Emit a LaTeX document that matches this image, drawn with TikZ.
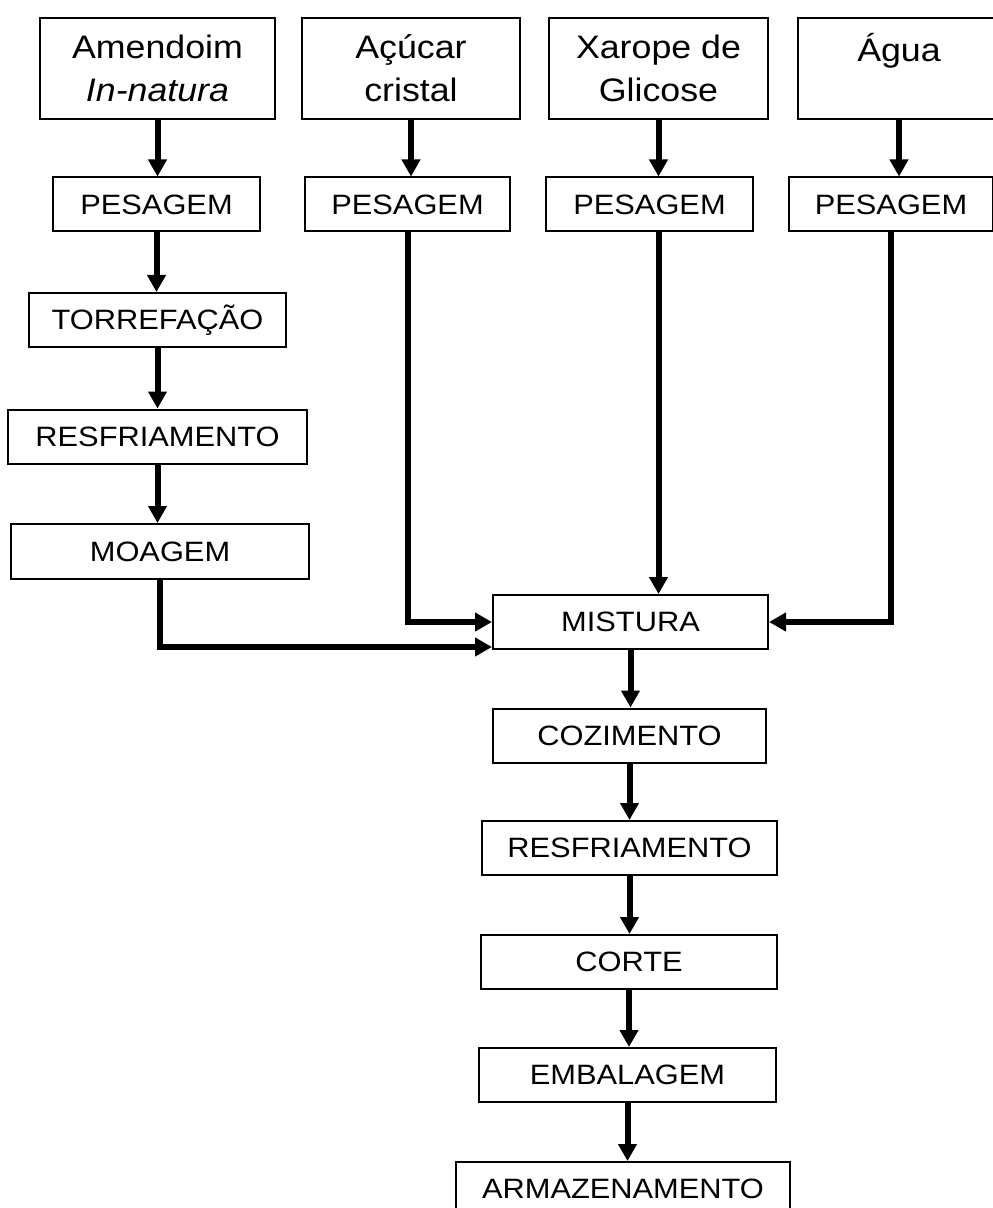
\documentclass[tikz,border=0pt]{standalone}
\usepackage{fontspec}
\setmainfont{Liberation Sans}[FakeStretch=1.1]
\usetikzlibrary{arrows.meta}

\begin{document}
\begin{tikzpicture}[x=0.5pt, y=-0.5pt,
    ingred/.style={rectangle, draw, line width=1pt, minimum height=50.5pt, inner sep=0pt, align=center, font=\fontsize{16.25}{21.5}\selectfont},
    etapa/.style={rectangle, draw, line width=1pt, minimum height=27pt, inner sep=0pt, text centered, font=\fontsize{14}{16}\selectfont},
    seta/.style={-{Triangle[width=9pt,length=8.5pt]}, line width=3pt}
]
\useasboundingbox (0,0) rectangle (992,1208);

\node[ingred, minimum width=117.5pt] (amend) at (157.5,68.5) {Amendoim\\\textit{In-natura}};
\node[ingred, minimum width=109pt] (acucar) at (411,68.5) {Açúcar\\cristal};
\node[ingred, minimum width=109.5pt] (xarope) at (658.5,68.5) {Xarope de\\Glicose};
\node[ingred, minimum width=101pt] (agua) at (899,68.5) {Água\\\mbox{}};

\node[etapa, minimum width=103.5pt] (pes1) at (156.5,204.5) {PESAGEM};
\node[etapa, minimum width=102.5pt] (pes2) at (407.5,204.5) {PESAGEM};
\node[etapa, minimum width=103.5pt] (pes3) at (649.5,204.5) {PESAGEM};
\node[etapa, minimum width=102pt] (pes4) at (891,204.5) {PESAGEM};

\node[etapa, minimum width=128.5pt] (torr) at (157.5,320) {TORREFAÇÃO};
\node[etapa, minimum width=149.5pt] (resf1) at (157.5,436.5) {RESFRIAMENTO};
\node[etapa, minimum width=149pt, minimum height=27.5pt] (moag) at (160,551.5) {MOAGEM};

\node[etapa, minimum width=137.5pt] (mist) at (630.5,622) {MISTURA};
\node[etapa, minimum width=136.5pt] (coz) at (629.5,735.5) {COZIMENTO};
\node[etapa, minimum width=147.5pt] (resf2) at (629.5,848) {RESFRIAMENTO};
\node[etapa, minimum width=148pt] (corte) at (629,962) {CORTE};
\node[etapa, minimum width=148.5pt] (emb) at (627.5,1075) {EMBALAGEM};
\node[etapa, minimum width=167pt] (arm) at (623,1189) {ARMAZENAMENTO};

\draw[seta] (amend.south) -- (amend.south |- pes1.north);
\draw[seta] (acucar.south) -- (acucar.south |- pes2.north);
\draw[seta] (xarope.south) -- (xarope.south |- pes3.north);
\draw[seta] (agua.south) -- (agua.south |- pes4.north);

\draw[seta] (pes1.south) -- (pes1.south |- torr.north);
\draw[seta] (torr) -- (resf1);
\draw[seta] (resf1.south) -- (resf1.south |- moag.north);
\draw[seta] (moag.south) |- ([yshift=1.5pt]mist.south west);

\draw[seta] (pes2.south) |- (mist.west);
\draw[seta] (xarope.south |- pes3.south) -- (xarope.south |- mist.north);
\draw[seta] (pes4.south) |- (mist.east);

\draw[seta] (mist.south) -- (mist.south |- coz.north);
\draw[seta] (coz.south) -- (coz.south |- resf2.north);
\draw[seta] (resf2.south) -- (resf2.south |- corte.north);
\draw[seta] (corte.south) -- (corte.south |- emb.north);
\draw[seta] (emb.south) -- (emb.south |- arm.north);

\end{tikzpicture}
\end{document}
